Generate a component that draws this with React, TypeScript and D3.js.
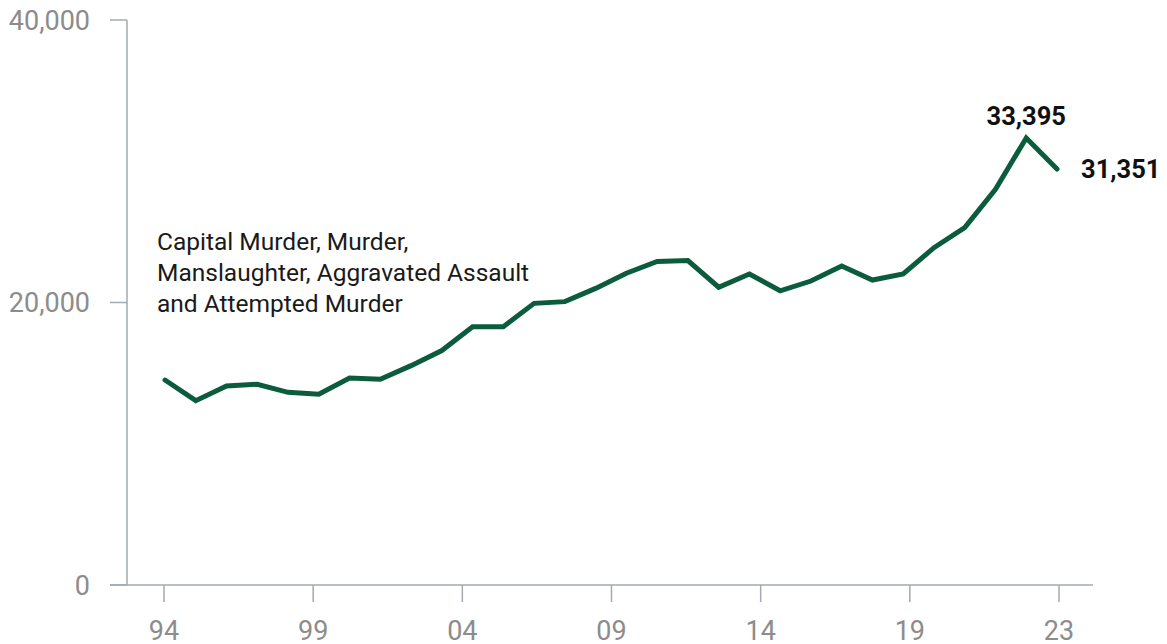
import React from "react";
import * as d3 from "d3";

const years: number[] = [
  1994, 1995, 1996, 1997, 1998, 1999, 2000, 2001, 2002, 2003,
  2004, 2005, 2006, 2007, 2008, 2009, 2010, 2011, 2012, 2013,
  2014, 2015, 2016, 2017, 2018, 2019, 2020, 2021, 2022, 2023,
];
const offenses: number[] = [
  14510, 13050, 14090, 14210, 13640, 13500, 14650, 14560, 15530, 16600,
  18290, 18290, 19940, 20060, 21000, 22070, 22900, 22970, 21080, 22020,
  20830, 21520, 22580, 21590, 22020, 23880, 25300, 28010, 31650, 29450,
];
const xTickLabels: string[] = ["94", "99", "04", "09", "14", "19", "23"];
const yTicks: number[] = [0, 20000, 40000];
const seriesLabel: string[] = [
  "Capital Murder, Murder,",
  "Manslaughter, Aggravated Assault",
  "and Attempted Murder",
];
const peakLabel = "33,395";
const lastLabel = "31,351";

const W = 1167;
const H = 644;
const axisColor = "#a3aab1";
const tickText = "#8c8c8c";
const lineColor = "#0b5c3d";
const font = "Roboto, 'Noto Sans', sans-serif";

export default function App() {
  const x = d3.scaleLinear().domain([1994, 2023]).range([165, 1057]);
  const y = d3.scaleLinear().domain([0, 40000]).range([585, 20]);
  const xt = d3.scalePoint<string>().domain(xTickLabels).range([164, 1059]);
  const fmt = d3.format(",");

  const line = d3
    .line<number>()
    .x((_, i) => x(years[i]))
    .y((d) => y(d));

  const peakIdx = offenses.indexOf(d3.max(offenses) as number);

  return (
    <svg
      width={W}
      height={H}
      style={{ position: "absolute", left: 0, top: 0, background: "#fff" }}
      fontFamily={font}
    >
      {/* y axis */}
      <line x1={127} x2={127} y1={y(40000)} y2={y(0)} stroke={axisColor} strokeWidth={1.5} />
      {yTicks.map((t) => (
        <g key={t}>
          <line x1={110} x2={127} y1={y(t)} y2={y(t)} stroke={axisColor} strokeWidth={1.5} />
          <text
            x={90}
            y={y(t)}
            dy="0.36em"
            textAnchor="end"
            fontSize={27}
            fill={tickText}
          >
            {fmt(t)}
          </text>
        </g>
      ))}
      {/* x axis */}
      <line x1={110} x2={1093} y1={y(0)} y2={y(0)} stroke={axisColor} strokeWidth={1.5} />
      {xTickLabels.map((l) => (
        <g key={l}>
          <line
            x1={xt(l)}
            x2={xt(l)}
            y1={y(0)}
            y2={y(0) + 17}
            stroke={axisColor}
            strokeWidth={1.5}
          />
          <text x={xt(l)} y={640} textAnchor="middle" fontSize={27} fill={tickText}>
            {l}
          </text>
        </g>
      ))}
      {/* series */}
      <path
        d={line(offenses) || ""}
        fill="none"
        stroke={lineColor}
        strokeWidth={5}
        strokeLinejoin="miter"
        strokeLinecap="round"
      />
      {/* annotation */}
      <text fontSize={24.5} fill="#1a1a1a">
        {seriesLabel.map((s, i) => (
          <tspan key={i} x={157} y={250 + i * 31}>
            {s}
          </tspan>
        ))}
      </text>
      <text
        x={x(years[peakIdx])}
        y={125}
        textAnchor="middle"
        fontSize={25.5}
        fontWeight={700}
        fill="#111"
      >
        {peakLabel}
      </text>
      <text x={1081} y={178} textAnchor="start" fontSize={25.5} fontWeight={700} fill="#111">
        {lastLabel}
      </text>
    </svg>
  );
}
